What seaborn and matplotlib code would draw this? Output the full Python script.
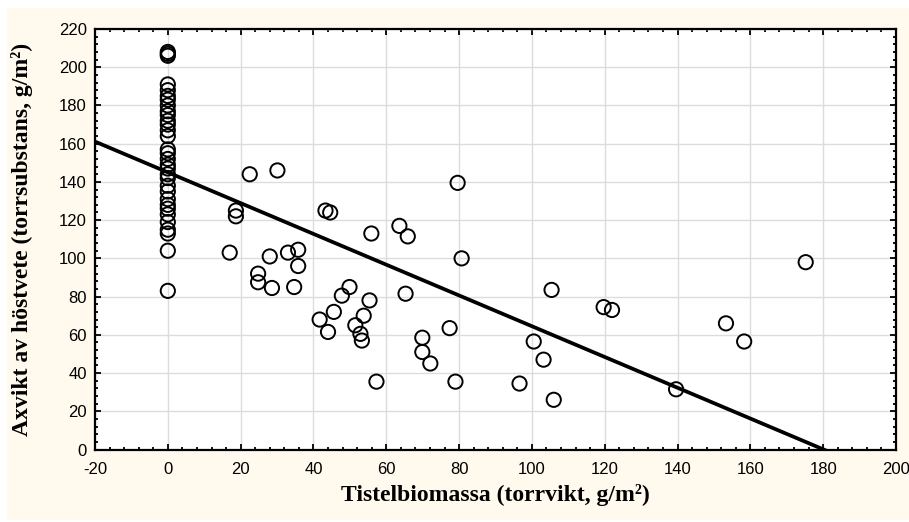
import numpy as np
import pandas as pd
import matplotlib
matplotlib.use("Agg")
import matplotlib.pyplot as plt
import seaborn as sns
from matplotlib.patches import Rectangle
from matplotlib.ticker import MultipleLocator, AutoMinorLocator

# Thistle biomass (x) and winter wheat yield (y)
zero_biomass_yield = [208, 207, 206, 191, 188, 185, 183, 180, 177, 175, 172, 170,
                      167, 164, 157, 155, 152, 149, 147, 144, 142, 138, 135, 131,
                      128, 126, 123, 119, 115, 113, 104, 83]

thistle_x = [22.5, 30.1, 18.7, 18.7, 43.3, 44.6, 55.9, 63.6, 65.9, 17.0, 28.0, 33.0,
             35.8, 35.8, 24.8, 24.8, 28.6, 34.7, 49.9, 47.8, 55.4, 65.3, 45.6, 41.7,
             44.0, 53.8, 51.5, 52.9, 53.3, 57.3, 69.9, 69.9, 72.1, 77.4, 79.6, 80.7,
             79.0, 96.6, 106.0, 100.5, 103.2, 105.4, 119.7, 122.0, 139.6, 153.3,
             158.3, 175.2]
wheat_y = [144, 146, 125, 122, 125, 124, 113, 117, 111.5, 103, 101, 103,
           104.5, 96, 92, 87.5, 84.5, 85, 85, 80.5, 78, 81.5, 72, 68,
           61.5, 70, 65, 60.5, 57, 35.5, 58.5, 51, 45, 63.5, 139.5, 100,
           35.5, 34.5, 26, 56.5, 47, 83.5, 74.5, 73, 31.5, 66,
           56.5, 98]

# Fitted line
intercept = 145.0
slope = -0.805

df = pd.DataFrame({
    "biomass": [0.0] * len(zero_biomass_yield) + thistle_x,
    "yield": zero_biomass_yield + wheat_y,
})
line_x = np.array([-20, 200])
line_df = pd.DataFrame({"biomass": line_x, "yield": intercept + slope * line_x})

sns.set_style("white")
plt.rcParams["font.family"] = ["Liberation Sans", "DejaVu Sans"]
plt.rcParams["axes.unicode_minus"] = False

fig = plt.figure(figsize=(9.09, 5.22), dpi=100)
fig.patch.set_facecolor("white")
bg = Rectangle((7 / 909, 2 / 522), 1 - 7 / 909, 1 - 10 / 522,
               transform=fig.transFigure, facecolor="#FFF9EE",
               edgecolor="none", zorder=-10)
fig.patches.append(bg)
ax = fig.add_axes([95 / 909, (522 - 449.5) / 522, 801 / 909, 420.5 / 522])
ax.set_facecolor("white")

sns.lineplot(data=line_df, x="biomass", y="yield", ax=ax, color="black",
             linewidth=2.7, zorder=3)
sns.scatterplot(data=df, x="biomass", y="yield", ax=ax, s=105, marker="o",
                facecolor="none", edgecolor="black", linewidth=1.4, zorder=4)

ax.set_xlim(-20, 200)
ax.set_ylim(0, 220)
ax.xaxis.set_major_locator(MultipleLocator(20))
ax.yaxis.set_major_locator(MultipleLocator(20))
ax.xaxis.set_minor_locator(AutoMinorLocator(5))
ax.yaxis.set_minor_locator(AutoMinorLocator(5))
ax.grid(True, which="major", color="#DCDCDC", linewidth=1.0, zorder=0)
ax.set_axisbelow(True)

for sp in ax.spines.values():
    sp.set_color("black")
    sp.set_linewidth(1.6)

ax.tick_params(which="both", direction="in", top=True, right=True,
               bottom=True, left=True, colors="black", width=1.3)
ax.tick_params(which="major", length=4, labelsize=12)
ax.tick_params(which="minor", length=2.5)
ax.tick_params(axis="x", which="major", pad=9)
ax.tick_params(axis="y", which="major", pad=6)

label_font = dict(family=["Liberation Serif", "DejaVu Serif"], weight="bold",
                  size=17, color="black")
ax.set_xlabel("Tistelbiomassa (torrvikt, g/m²)", fontdict=label_font,
              va="center")
ax.set_ylabel("Axvikt av höstvete (torrsubstans, g/m²)", fontdict=label_font,
              va="center")
ax.xaxis.set_label_coords(0.5, -46 / 420.5)
ax.yaxis.set_label_coords(-73 / 801, 0.5)

fig.savefig("out.png", dpi=100, facecolor=fig.get_facecolor())
